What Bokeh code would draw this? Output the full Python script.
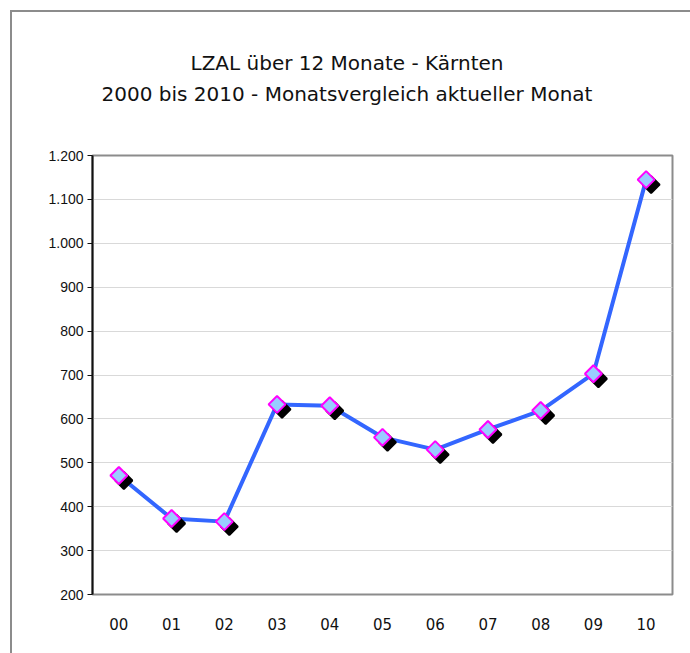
from bokeh.plotting import figure
from bokeh.models import FixedTicker, ColumnDataSource, Div
from bokeh.layouts import column
from bokeh.embed import file_html
from bokeh.resources import INLINE
import math

# ---- data ----
categories = ["00", "01", "02", "03", "04", "05", "06", "07", "08", "09", "10"]
values = [471, 373, 366, 633, 630, 558, 530, 576, 619, 703, 1145]
y_ticks = [200, 300, 400, 500, 600, 700, 800, 900, 1000, 1100, 1200]
y_tick_labels = ["200", "300", "400", "500", "600", "700", "800", "900", "1.000", "1.100", "1.200"]
title_lines = ["LZAL über 12 Monate - Kärnten",
               "2000 bis 2010 - Monatsvergleich aktueller Monat"]

DIV_H = 110
W, H = 678, 641 - DIV_H
BL, BR, BT, BB = 80, 18, 33, 59
p = figure(width=W, height=H, output_backend="svg", toolbar_location=None,
           x_range=(-0.5, len(categories) - 0.5), y_range=(200, 1200),
           min_border_left=BL, min_border_right=BR, min_border_top=BT, min_border_bottom=BB)
p.background_fill_color = "white"
p.border_fill_color = "white"
p.outline_line_color = "#8c8c8c"
p.outline_line_width = 2

xs = list(range(len(categories)))
# pixel offsets for shadow converted to data units
frame_w = W - BL - BR
frame_h = H - BT - BB
dx = 5 * (len(categories)) / frame_w
dy = 5 * (1200 - 200) / frame_h

src = ColumnDataSource(dict(x=xs, y=values,
                            sx=[x + dx for x in xs], sy=[v - dy for v in values]))

p.line("x", "y", source=src, line_color="#3366ff", line_width=4)
p.scatter("sx", "sy", source=src, marker="square", size=12, angle=math.pi / 4,
          fill_color="black", line_color="black", line_width=2)
p.scatter("x", "y", source=src, marker="square", size=12, angle=math.pi / 4,
          fill_color="#99ccff", line_color="#ff00ff", line_width=2)

# axes
p.xaxis.ticker = FixedTicker(ticks=xs)
p.xaxis.major_label_overrides = {i: c for i, c in enumerate(categories)}
p.xaxis.axis_line_color = None
p.xaxis.major_tick_line_color = None
p.xaxis.minor_tick_line_color = None
p.xaxis.major_label_standoff = 17
p.xaxis.major_label_text_font = "DejaVu Sans"
p.xaxis.major_label_text_font_size = "15px"
p.xaxis.major_label_text_color = "#111111"

p.yaxis.ticker = FixedTicker(ticks=y_ticks)
p.yaxis.major_label_overrides = {t: l for t, l in zip(y_ticks, y_tick_labels)}
p.yaxis.axis_line_color = "#111111"
p.yaxis.axis_line_width = 2
p.yaxis.major_tick_line_color = "#111111"
p.yaxis.major_tick_out = 5
p.yaxis.major_tick_in = 0
p.yaxis.minor_tick_line_color = None
p.yaxis.major_label_standoff = 4
p.yaxis.major_label_text_font = "Liberation Sans"
p.yaxis.major_label_text_font_size = "14px"
p.yaxis.major_label_text_color = "#111111"

p.xgrid.grid_line_color = None
p.ygrid.grid_line_color = "#d9d9d9"
p.ygrid.grid_line_width = 1

title_html = "<br>".join(title_lines)
title_div = Div(text=title_html, width=670, height=DIV_H, margin=0,
                styles={"text-align": "center", "font-family": "DejaVu Sans",
                        "font-size": "20px", "line-height": "31px",
                        "padding-top": "36px", "color": "#111111",
                        "box-sizing": "border-box", "display": "block",
                        "width": "670px"})

layout = column(title_div, p, spacing=0,
                styles={"border-left": "2px solid #8c8c8c",
                        "border-top": "2px solid #8c8c8c",
                        "margin-top": "10px", "margin-left": "10px"})

open("out.html", "w").write(file_html(layout, INLINE))
